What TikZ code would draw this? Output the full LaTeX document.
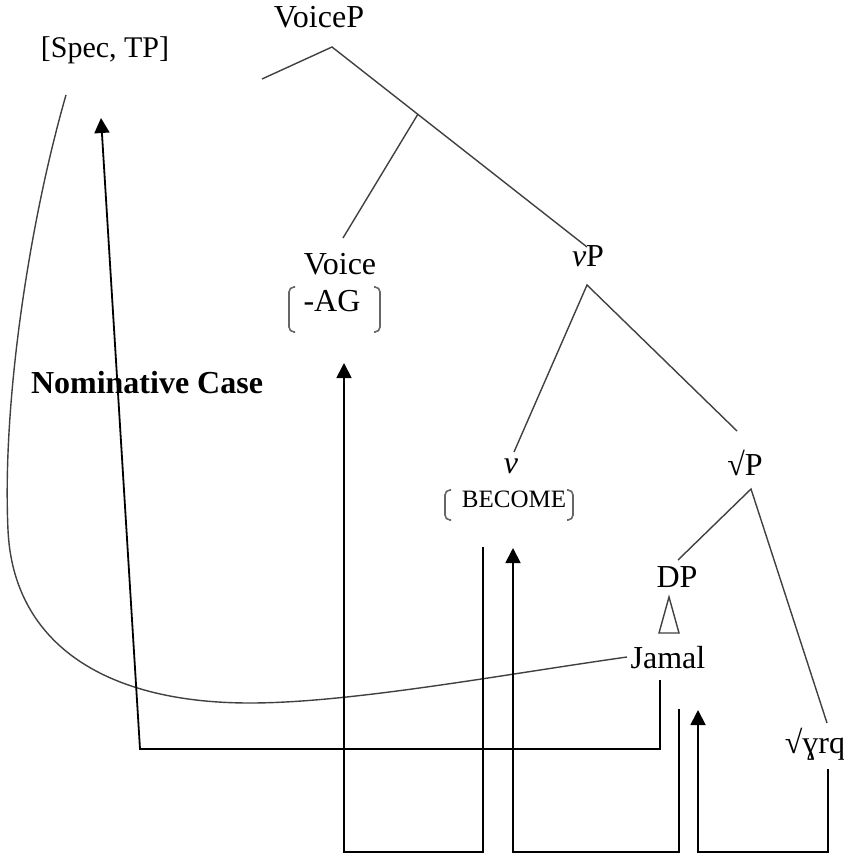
\documentclass[tikz,border=0pt]{standalone}
\usepackage{fontspec}
\setmainfont{Liberation Serif}
\usetikzlibrary{arrows.meta}
\begin{document}
\begin{tikzpicture}[x=0.5pt,y=-0.5pt,
  lbl/.style={anchor=base,inner sep=0pt,font=\fontsize{16}{19}\selectfont},
  tree/.style={line width=0.7pt, draw=black!75},
  conn/.style={line width=0.9pt},
  arr/.style={conn,-{Triangle[length=7.5pt,width=7.5pt]}},
  brk/.style={line width=0.8pt, draw=black!60, rounded corners=2.5pt}]
\useasboundingbox (0,0) rectangle (844,855);
% labels
\node[lbl] (voicep) at (319,28) {VoiceP};
\node[lbl,font=\fontsize{15}{18}\selectfont] (spec) at (105,58) {[Spec, TP]};
\node[lbl] (voice) at (340,275) {Voice};
\node[lbl] (ag) at (332,312) {-AG};
\node[lbl] (vP) at (588,267) {\textit{v}P};
\node[lbl,font=\fontsize{16}{19}\bfseries] (nom) at (147,393) {Nominative Case};
\node[lbl] (v) at (511,473) {\textit{v}};
\node[lbl,font=\fontsize{12.5}{15}\selectfont] (become) at (514,507) {BECOME};
\node[lbl] (rP) at (745,475) {√P};
\node[lbl] (dp) at (677,587) {DP};
\node[lbl] (jamal) at (668,668) {Jamal};
\node[lbl] (root) at (815,753) {√ɣrq};
% brackets
\draw[brk] (295,287) -- (289,287) -- (289,332) -- (295,332);
\draw[brk] (374,287) -- (380,287) -- (380,332) -- (374,332);
\draw[brk] (451,490) -- (445,490) -- (445,520) -- (451,520);
\draw[brk] (567,490) -- (573,490) -- (573,520) -- (567,520);
% tree coordinates
\coordinate (vpL) at (262,79);
\coordinate (vpT) at (332,47);
\coordinate (vpM) at (418,114);
\coordinate (voiceT) at (343,238);
\coordinate (vPin) at (587,247);
\coordinate (vPT) at (587,285);
\coordinate (vT) at (514,452);
\coordinate (rPin) at (737,431);
\coordinate (rPT) at (751,489);
\coordinate (dpin) at (678,560);
\coordinate (rootin) at (827,723);
\draw[tree] (vpL) -- (vpT) -- (vPin);
\draw[tree] (vpM) -- (voiceT);
\draw[tree] (vT) -- (vPT) -- (rPin);
\draw[tree] (dpin) -- (rPT) -- (rootin);
\draw[tree] (669,597) -- (659,633) -- (679,633) -- cycle;
% curve Jamal -> Spec
\coordinate (jamalL) at (627,657);
\coordinate (specL) at (66,95);
\draw[tree] (jamalL) .. controls (500,675) and (350,703) .. (250,703)
  .. controls (100,703) and (13,640) .. (8,530)
  .. controls (2,400) and (30,220) .. (specL);
% connectors
\coordinate (jamalB) at (660,680);
\coordinate (specin) at (101,118);
\draw[arr] (jamalB) -- (660,749) -- (140,749) -- (specin);
\coordinate (vB) at (483,547);
\coordinate (voicein) at (344,363);
\draw[arr] (vB) -- (483,852) -- (344,852) -- (voicein);
\coordinate (jamalB2) at (679,709);
\coordinate (vin) at (513,548);
\draw[arr] (jamalB2) -- (679,852) -- (513,852) -- (vin);
\coordinate (rootB) at (828,769);
\coordinate (jamalin) at (698,710);
\draw[arr] (rootB) -- (828,852) -- (698,852) -- (jamalin);
\end{tikzpicture}
\end{document}
